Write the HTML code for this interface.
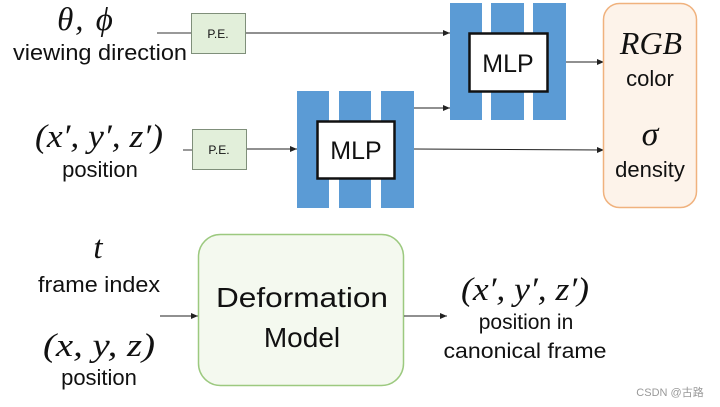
<!DOCTYPE html>
<html><head><meta charset="utf-8"><style>
html,body{margin:0;padding:0;background:#fff;}
svg{display:block;}
.s{font-family:"Liberation Sans","DejaVu Sans",sans-serif;fill:#111;}
.m{font-family:"Liberation Serif","DejaVu Serif",serif;font-style:italic;fill:#111;}
</style></head><body>
<svg width="720" height="407" viewBox="0 0 720 407" xmlns="http://www.w3.org/2000/svg">
<defs><marker id="a" markerWidth="8" markerHeight="8" refX="7" refY="4" orient="auto" markerUnits="userSpaceOnUse"><path d="M0,1 L7,4 L0,7 z" fill="#222"/></marker></defs>
<text class="m" x="86" y="30" font-size="33" text-anchor="middle" letter-spacing="2">θ, ϕ</text>
<text class="s" x="100" y="60" font-size="22" text-anchor="middle" textLength="174" lengthAdjust="spacingAndGlyphs">viewing direction</text>
<text class="m" x="99" y="147" font-size="33" text-anchor="middle" textLength="128" lengthAdjust="spacingAndGlyphs">(x′, y′, z′)</text>
<text class="s" x="100" y="177" font-size="22" text-anchor="middle">position</text>
<text class="m" x="98" y="258" font-size="33" text-anchor="middle">t</text>
<text class="s" x="99" y="292" font-size="22" text-anchor="middle" textLength="122" lengthAdjust="spacingAndGlyphs">frame index</text>
<text class="m" x="99" y="356" font-size="33" text-anchor="middle" textLength="112" lengthAdjust="spacingAndGlyphs">(x, y, z)</text>
<text class="s" x="99" y="385" font-size="22" text-anchor="middle">position</text>
<line x1="157" y1="33" x2="191" y2="33" stroke="#333" stroke-width="1"/>
<rect x="191.5" y="13.5" width="54" height="40" fill="#e2efda" stroke="#7f8f7a"/>
<text class="s" x="218" y="38" font-size="12" text-anchor="middle">P.E.</text>
<line x1="183" y1="150" x2="192" y2="150" stroke="#333" stroke-width="1"/>
<rect x="192.5" y="129.5" width="54" height="40" fill="#e2efda" stroke="#7f8f7a"/>
<text class="s" x="219" y="154" font-size="12" text-anchor="middle">P.E.</text>
<line x1="246" y1="33" x2="450" y2="33" stroke="#222" marker-end="url(#a)"/>
<line x1="247" y1="149" x2="297" y2="149" stroke="#222" marker-end="url(#a)"/>
<line x1="414" y1="108" x2="450" y2="108" stroke="#222" marker-end="url(#a)"/>
<line x1="566" y1="62" x2="604" y2="62" stroke="#222" marker-end="url(#a)"/>
<line x1="414" y1="149" x2="604" y2="150" stroke="#222" marker-end="url(#a)"/>
<rect x="450" y="3" width="32" height="117" fill="#5b9bd5"/>
<rect x="491" y="3" width="33" height="117" fill="#5b9bd5"/>
<rect x="533" y="3" width="33" height="117" fill="#5b9bd5"/>
<rect x="469.5" y="33.5" width="78" height="58" fill="#fff" stroke="#111" stroke-width="2.5"/>
<text class="s" x="508" y="72" font-size="25" text-anchor="middle">MLP</text>
<rect x="297" y="91" width="32" height="117" fill="#5b9bd5"/>
<rect x="339" y="91" width="32" height="117" fill="#5b9bd5"/>
<rect x="381" y="91" width="33" height="117" fill="#5b9bd5"/>
<rect x="317.5" y="121.5" width="77" height="57" fill="#fff" stroke="#111" stroke-width="2.5"/>
<text class="s" x="356" y="159" font-size="25" text-anchor="middle">MLP</text>
<rect x="603.5" y="3.5" width="93" height="204" rx="16" fill="#fdf3ea" stroke="#f0b27e" stroke-width="1.5"/>
<text class="m" x="651" y="54" font-size="32" text-anchor="middle">RGB</text>
<text class="s" x="650" y="86" font-size="22" text-anchor="middle">color</text>
<text class="m" x="650" y="145" font-size="34" text-anchor="middle">σ</text>
<text class="s" x="650" y="177" font-size="22" text-anchor="middle">density</text>
<line x1="160" y1="316" x2="198" y2="316" stroke="#222" marker-end="url(#a)"/>
<rect x="198.5" y="234.5" width="205" height="151" rx="22" fill="#f4f9ef" stroke="#9cc97f" stroke-width="1.5"/>
<text class="s" x="302" y="307" font-size="28" text-anchor="middle" textLength="172" lengthAdjust="spacingAndGlyphs">Deformation</text>
<text class="s" x="302" y="347" font-size="28" text-anchor="middle">Model</text>
<line x1="404" y1="316" x2="447" y2="316" stroke="#222" marker-end="url(#a)"/>
<text class="m" x="525" y="300" font-size="33" text-anchor="middle" textLength="128" lengthAdjust="spacingAndGlyphs">(x′, y′, z′)</text>
<text class="s" x="526" y="329" font-size="21" text-anchor="middle">position in</text>
<text class="s" x="525" y="358" font-size="21" text-anchor="middle" textLength="163" lengthAdjust="spacingAndGlyphs">canonical frame</text>
<text x="670" y="396" font-size="11" fill="#999" text-anchor="middle" font-family="'Liberation Sans','Noto Sans CJK SC',sans-serif">CSDN @古路</text>
</svg>
</body></html>
